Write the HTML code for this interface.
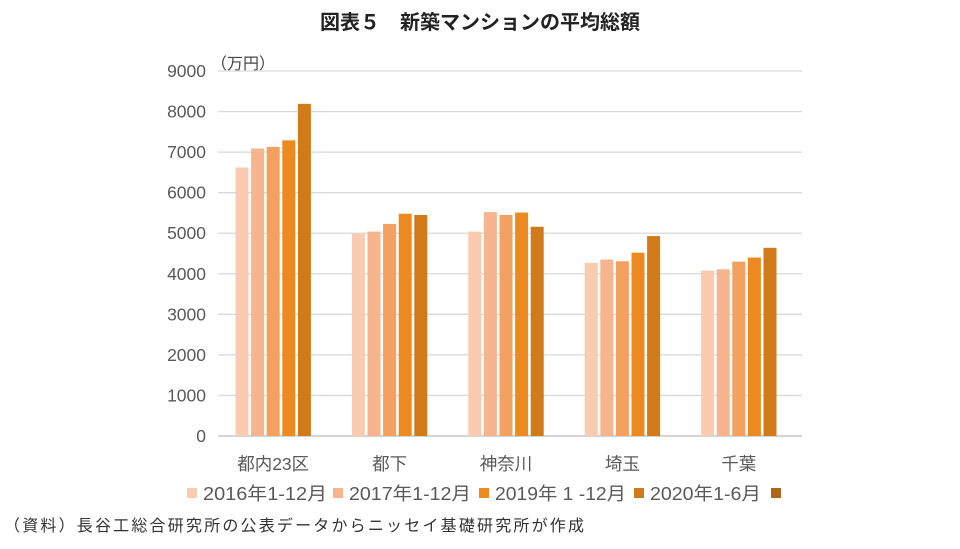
<!DOCTYPE html>
<html><head><meta charset="utf-8">
<style>
body{margin:0;background:#fff;width:960px;height:549px;overflow:hidden;font-family:"Liberation Sans","Noto Sans CJK JP",sans-serif;}
svg{display:block}
</style></head>
<body>
<svg id="chart" width="960" height="549" xmlns="http://www.w3.org/2000/svg" font-family="'Liberation Sans','Noto Sans CJK JP',sans-serif">
<text x="480" y="29" text-anchor="middle" font-size="20" font-weight="bold" fill="#222">図表５　新築マンションの平均総額</text>
<text x="211" y="69" font-size="16" fill="#444">（万円）</text>
<g id="grid"></g><g id="bars"></g><g id="labels"></g>
<g id="legend"></g>
<text x="4" y="531" font-size="16" fill="#333" textLength="580">（資料）長谷工総合研究所の公表データからニッセイ基礎研究所が作成</text>
</svg>
<script>
const categories=["都内23区","都下","神奈川","埼玉","千葉"];
const s2016=[6620,4990,5040,4270,4080];
const s2017=[7090,5040,5520,4350,4110];
const s2018=[7130,5230,5450,4310,4300];
const s2019=[7290,5480,5510,4520,4400];
const s2020=[8190,5450,5160,4930,4640];
const yTicks=[0,1000,2000,3000,4000,5000,6000,7000,8000,9000];
const legendLabels=["2016年1-12月","2017年1-12月","2019年 1 -12月","2020年1-6月",""];
const series=[s2016,s2017,s2018,s2019,s2020];
const colors=["#F9CBB0","#F6B58E","#F4A060","#EC8A1F","#D07A1A"];
const legendColors=["#F9CBB0","#F6B58E","#EC8A1F","#D07A1A","#B0661A"];
const NS="http://www.w3.org/2000/svg";
const y0=436,y1=71,yMax=9000,x0=215,band=116.4;
const Y=v=>y0-(v/yMax)*(y0-y1);
const X=i=>x0+band*i+band/2;
function mk(t,a,p){const e=document.createElementNS(NS,t);for(const k in a)e.setAttribute(k,a[k]);p.appendChild(e);return e;}
const g=document.getElementById('grid'),b=document.getElementById('bars'),l=document.getElementById('labels'),lg=document.getElementById('legend');
yTicks.forEach(v=>{
 const ln=mk('line',{x1:218,x2:802,y1:Y(v),y2:Y(v),stroke:v===0?'#bbb':'#d9d9d9','stroke-width':1.3},g);
 
 
 const t=mk('text',{x:206,y:Y(v)+6,'text-anchor':'end','font-size':17.5,fill:'#595959'},g);t.textContent=v;
 
 
});
const bw=13,pitch=15.6;
categories.forEach((c,i)=>{
 series.forEach((s,j)=>{
  const x=X(i)+(j-2)*pitch-bw/2;
  const r=mk('rect',{x:x,y:Y(s[i]),width:bw,height:y0-Y(s[i]),fill:colors[j]},b);
  
  
 });
 const t=mk('text',{x:X(i),y:470,'text-anchor':'middle','font-size':17.5,fill:'#595959'},l);t.textContent=c;
 
 
});
const lx=[187,333,479,634,771];
const lw=[124,122,131,111,0];
legendLabels.forEach((lab,k)=>{
 const r=mk('rect',{x:lx[k],y:488,width:10,height:10,fill:legendColors[k]},lg);
 
 
 if(lab){const t=mk('text',{x:lx[k]+16,y:500,'font-size':18,fill:'#595959',textLength:lw[k],lengthAdjust:'spacingAndGlyphs'},lg);t.textContent=lab;
 
 }
});
</script>
</body></html>
